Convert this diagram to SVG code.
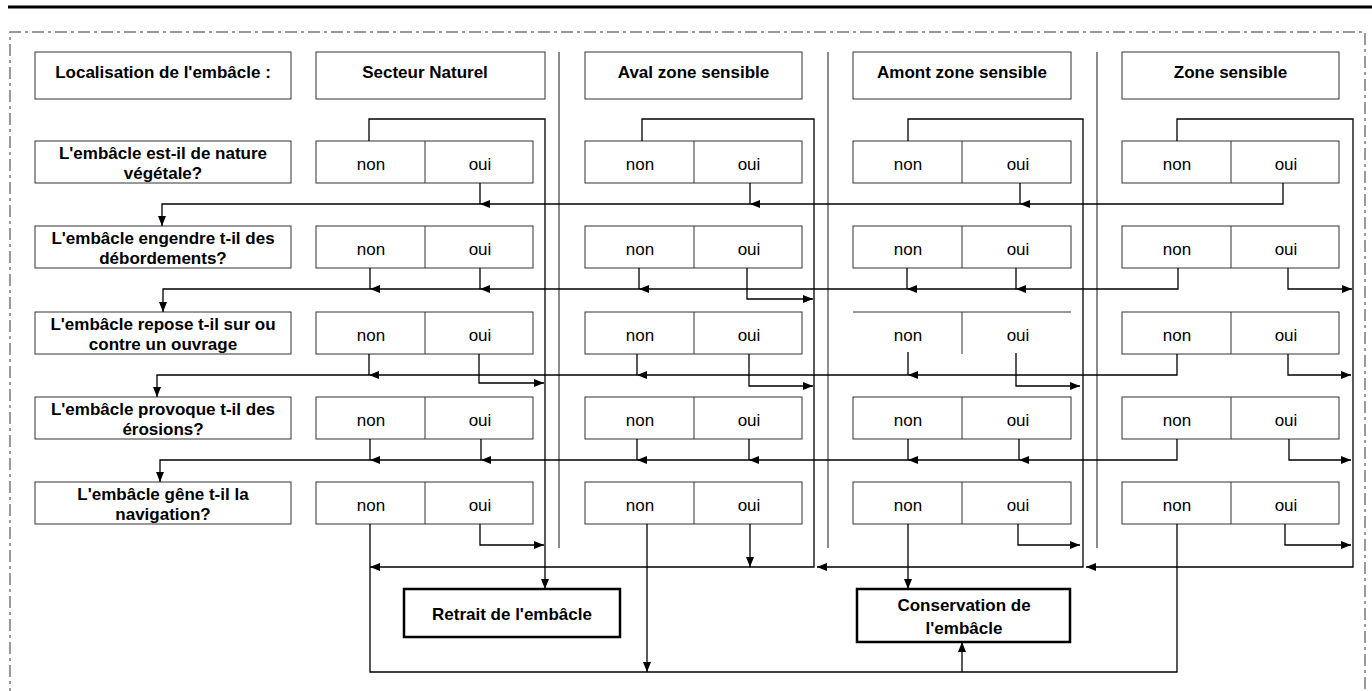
<svg xmlns="http://www.w3.org/2000/svg" width="1372" height="691" viewBox="0 0 1372 691">
<defs>
<style>
.bx{fill:#fff;stroke:#333;stroke-width:1}
.bb{fill:#fff;stroke:#000;stroke-width:2.5}
.dv{stroke:#333;stroke-width:1}
.b{font-family:"Liberation Sans",Arial,sans-serif;font-weight:bold;font-size:17px;text-anchor:middle;fill:#000}
.r{font-family:"Liberation Sans",Arial,sans-serif;font-size:17px;text-anchor:middle;fill:#000}
.ln{fill:none;stroke:#000;stroke-width:1.3}
.a{marker-end:url(#ah)}
.sep{stroke:#8c8c8c;stroke-width:2}
</style>
<marker id="ah" markerUnits="userSpaceOnUse" markerWidth="10" markerHeight="8" refX="10" refY="4" orient="auto"><path d="M0,0 L10,4 L0,8 z" fill="#000"/></marker>
</defs>
<rect width="1372" height="691" fill="#fff"/>
<line x1="8" y1="7" x2="1372" y2="7" stroke="#000" stroke-width="3"/>
<path d="M10,700 V32 H1365 V700" fill="none" stroke="#7a7a7a" stroke-width="1.5" stroke-dasharray="12 4 3 4"/>
<g id="separators">
<line class="sep" x1="559" y1="52" x2="559" y2="548"/>
<line class="sep" x1="828" y1="52" x2="828" y2="548"/>
<line class="sep" x1="1097" y1="52" x2="1097" y2="548"/>
</g>
<g id="hdr-loc"><rect class="bx" x="35" y="52" width="256" height="47"/><text class="b" x="163" y="78">Localisation de l'embâcle :</text></g>
<g id="hdr-sn"><rect class="bx" x="316" y="52" width="229" height="47"/><text class="b" x="425" y="78">Secteur Naturel</text></g>
<g id="hdr-aval"><rect class="bx" x="585" y="52" width="217" height="47"/><text class="b" x="693.5" y="78">Aval zone sensible</text></g>
<g id="hdr-amont"><rect class="bx" x="853" y="52" width="218" height="47"/><text class="b" x="962" y="78">Amont zone sensible</text></g>
<g id="hdr-zone"><rect class="bx" x="1122" y="52" width="217" height="47"/><text class="b" x="1230.5" y="78">Zone sensible</text></g>
<g id="q1"><rect class="bx" x="35" y="141" width="256" height="42"/><text class="b" x="163" y="158.5">L'embâcle est-il de nature</text><text class="b" x="163" y="179">végétale?</text></g>
<g id="q2"><rect class="bx" x="35" y="226" width="256" height="42"/><text class="b" x="163" y="243.5">L'embâcle engendre t-il des</text><text class="b" x="163" y="264">débordements?</text></g>
<g id="q3"><rect class="bx" x="35" y="312" width="256" height="42"/><text class="b" x="163" y="329.5">L'embâcle repose t-il sur ou</text><text class="b" x="163" y="350">contre un ouvrage</text></g>
<g id="q4"><rect class="bx" x="35" y="397" width="256" height="42"/><text class="b" x="163" y="414.5">L'embâcle provoque t-il des</text><text class="b" x="163" y="435">érosions?</text></g>
<g id="q5"><rect class="bx" x="35" y="482" width="256" height="42"/><text class="b" x="163" y="499.5">L'embâcle gêne t-il la</text><text class="b" x="163" y="520">navigation?</text></g>
<!-- Secteur Naturel -->
<g id="sn1"><rect class="bx" x="316" y="141" width="217" height="42"/><line class="dv" x1="425" y1="141" x2="425" y2="183"/><text class="r" x="371" y="169.5">non</text><text class="r" x="480" y="169.5">oui</text></g>
<g id="sn2"><rect class="bx" x="316" y="226" width="217" height="42"/><line class="dv" x1="425" y1="226" x2="425" y2="268"/><text class="r" x="371" y="254.5">non</text><text class="r" x="480" y="254.5">oui</text></g>
<g id="sn3"><rect class="bx" x="316" y="312" width="217" height="42"/><line class="dv" x1="425" y1="312" x2="425" y2="354"/><text class="r" x="371" y="340.5">non</text><text class="r" x="480" y="340.5">oui</text></g>
<g id="sn4"><rect class="bx" x="316" y="397" width="217" height="42"/><line class="dv" x1="425" y1="397" x2="425" y2="439"/><text class="r" x="371" y="425.5">non</text><text class="r" x="480" y="425.5">oui</text></g>
<g id="sn5"><rect class="bx" x="316" y="482" width="217" height="42"/><line class="dv" x1="425" y1="482" x2="425" y2="524"/><text class="r" x="371" y="510.5">non</text><text class="r" x="480" y="510.5">oui</text></g>
<!-- Aval -->
<g id="av1"><rect class="bx" x="585" y="141" width="217" height="42"/><line class="dv" x1="694" y1="141" x2="694" y2="183"/><text class="r" x="640" y="169.5">non</text><text class="r" x="749" y="169.5">oui</text></g>
<g id="av2"><rect class="bx" x="585" y="226" width="217" height="42"/><line class="dv" x1="694" y1="226" x2="694" y2="268"/><text class="r" x="640" y="254.5">non</text><text class="r" x="749" y="254.5">oui</text></g>
<g id="av3"><rect class="bx" x="585" y="312" width="217" height="42"/><line class="dv" x1="694" y1="312" x2="694" y2="354"/><text class="r" x="640" y="340.5">non</text><text class="r" x="749" y="340.5">oui</text></g>
<g id="av4"><rect class="bx" x="585" y="397" width="217" height="42"/><line class="dv" x1="694" y1="397" x2="694" y2="439"/><text class="r" x="640" y="425.5">non</text><text class="r" x="749" y="425.5">oui</text></g>
<g id="av5"><rect class="bx" x="585" y="482" width="217" height="42"/><line class="dv" x1="694" y1="482" x2="694" y2="524"/><text class="r" x="640" y="510.5">non</text><text class="r" x="749" y="510.5">oui</text></g>
<!-- Amont -->
<g id="am1"><rect class="bx" x="853" y="141" width="218" height="42"/><line class="dv" x1="962" y1="141" x2="962" y2="183"/><text class="r" x="908" y="169.5">non</text><text class="r" x="1018" y="169.5">oui</text></g>
<g id="am2"><rect class="bx" x="853" y="226" width="218" height="42"/><line class="dv" x1="962" y1="226" x2="962" y2="268"/><text class="r" x="908" y="254.5">non</text><text class="r" x="1018" y="254.5">oui</text></g>
<g id="am3"><line class="dv" x1="853" y1="312" x2="1071" y2="312"/><line class="dv" x1="962" y1="312" x2="962" y2="354"/><text class="r" x="908" y="340.5">non</text><text class="r" x="1018" y="340.5">oui</text></g>
<g id="am4"><rect class="bx" x="853" y="397" width="218" height="42"/><line class="dv" x1="962" y1="397" x2="962" y2="439"/><text class="r" x="908" y="425.5">non</text><text class="r" x="1018" y="425.5">oui</text></g>
<g id="am5"><rect class="bx" x="853" y="482" width="218" height="42"/><line class="dv" x1="962" y1="482" x2="962" y2="524"/><text class="r" x="908" y="510.5">non</text><text class="r" x="1018" y="510.5">oui</text></g>
<!-- Zone sensible -->
<g id="zs1"><rect class="bx" x="1122" y="141" width="217" height="42"/><line class="dv" x1="1231" y1="141" x2="1231" y2="183"/><text class="r" x="1177" y="169.5">non</text><text class="r" x="1286" y="169.5">oui</text></g>
<g id="zs2"><rect class="bx" x="1122" y="226" width="217" height="42"/><line class="dv" x1="1231" y1="226" x2="1231" y2="268"/><text class="r" x="1177" y="254.5">non</text><text class="r" x="1286" y="254.5">oui</text></g>
<g id="zs3"><rect class="bx" x="1122" y="312" width="217" height="42"/><line class="dv" x1="1231" y1="312" x2="1231" y2="354"/><text class="r" x="1177" y="340.5">non</text><text class="r" x="1286" y="340.5">oui</text></g>
<g id="zs4"><rect class="bx" x="1122" y="397" width="217" height="42"/><line class="dv" x1="1231" y1="397" x2="1231" y2="439"/><text class="r" x="1177" y="425.5">non</text><text class="r" x="1286" y="425.5">oui</text></g>
<g id="zs5"><rect class="bx" x="1122" y="482" width="217" height="42"/><line class="dv" x1="1231" y1="482" x2="1231" y2="524"/><text class="r" x="1177" y="510.5">non</text><text class="r" x="1286" y="510.5">oui</text></g>
<g id="retrait"><rect class="bb" x="404" y="589" width="216" height="48"/><text class="b" x="512" y="619.5">Retrait de l'embâcle</text></g>
<g id="conservation"><rect class="bb" x="857" y="589" width="213" height="53"/><text class="b" x="964" y="610.5">Conservation de</text><text class="b" x="964" y="633.5">l'embâcle</text></g>
<g id="connectors" class="ln">
<!-- row 1 loops -->
<path class="a" d="M369,141 V119 H545 V589"/>
<path class="a" d="M642,141 V119 H814 V567 H370"/>
<path class="a" d="M908,141 V119 H1083 V567 H817"/>
<path class="a" d="M1177,141 V119 H1353 V567 H1086"/>
<!-- bus 1-2 -->
<path class="a" d="M1283,183 V204 H1020"/>
<path class="a" d="M1020,204 H750"/>
<path class="a" d="M750,204 H480"/>
<path class="a" d="M480,204 H162 V226"/>
<path d="M1020,183 V204 M750,183 V204 M480,183 V204"/>
<!-- bus 2-3 -->
<path class="a" d="M1178,268 V289 H1016"/>
<path class="a" d="M1016,289 H907"/>
<path class="a" d="M907,289 H639"/>
<path class="a" d="M639,289 H480"/>
<path class="a" d="M480,289 H370"/>
<path class="a" d="M370,289 H163 V312"/>
<path d="M1016,268 V289 M907,268 V289 M639,268 V289 M480,268 V289 M370,268 V289"/>
<path class="a" d="M747,268 V299 H813"/>
<path class="a" d="M1288,268 V289 H1352"/>
<!-- bus 3-4 -->
<path class="a" d="M1177,354 V375 H908"/>
<path class="a" d="M908,375 H637"/>
<path class="a" d="M637,375 H369"/>
<path class="a" d="M369,375 H157 V397"/>
<path d="M908,352 V375 M637,354 V375 M369,354 V375"/>
<path class="a" d="M479,354 V383 H544"/>
<path class="a" d="M749,354 V386 H813"/>
<path class="a" d="M1016,353 V386 H1080"/>
<path class="a" d="M1288,354 V375 H1351"/>
<!-- bus 4-5 -->
<path class="a" d="M1177,439 V460 H1019"/>
<path class="a" d="M1019,460 H908"/>
<path class="a" d="M908,460 H749"/>
<path class="a" d="M749,460 H637"/>
<path class="a" d="M637,460 H481"/>
<path class="a" d="M481,460 H370"/>
<path class="a" d="M370,460 H160 V482"/>
<path d="M1019,439 V460 M908,439 V460 M749,439 V460 M637,439 V460 M481,439 V460 M370,439 V460"/>
<path class="a" d="M1289,439 V460 H1351"/>
<!-- row 5 -->
<path d="M370,524 V672 H1177 V524"/>
<path class="a" d="M480,524 V545 H544"/>
<path class="a" d="M647,524 V672"/>
<path class="a" d="M750,524 V567"/>
<path class="a" d="M908,524 V589"/>
<path class="a" d="M1018,524 V545 H1080"/>
<path class="a" d="M1285,524 V545 H1351"/>
<path class="a" d="M962,672 V642"/>
</g>
</svg>
